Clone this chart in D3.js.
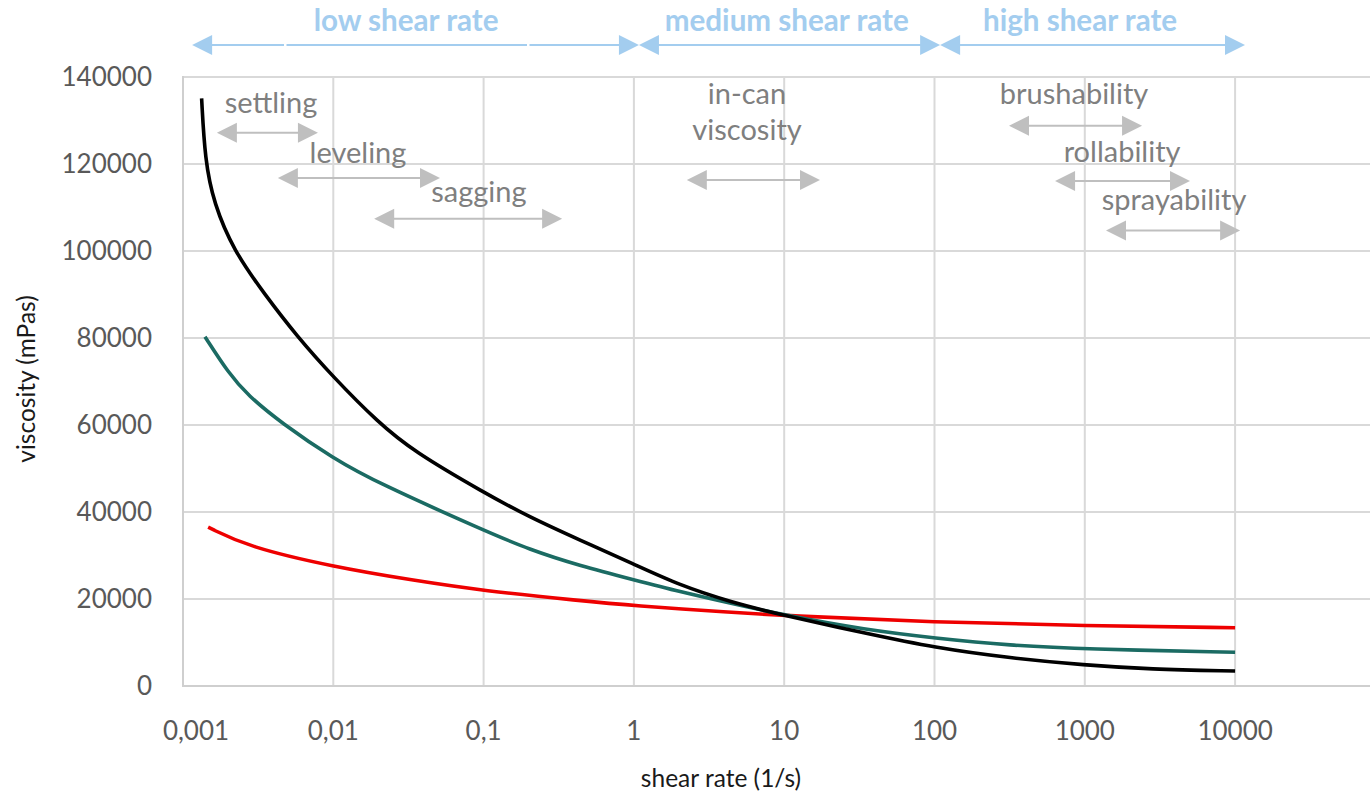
<!DOCTYPE html>
<html>
<head>
<meta charset="utf-8">
<script src="https://cdn.jsdelivr.net/npm/d3@7"></script>
<style>
  html, body { margin: 0; padding: 0; background: #fff; }
  svg { display: block; }
  text { font-family: Lato, "Open Sans", sans-serif; }
</style>
</head>
<body>
<svg id="chart" width="1370" height="794"></svg>
<script>
// ---------------- DATA ----------------
const xTicks = [0.001, 0.01, 0.1, 1, 10, 100, 1000, 10000];
const xTickLabels = ["0,001", "0,01", "0,1", "1", "10", "100", "1000", "10000"];
const yTicks = [0, 20000, 40000, 60000, 80000, 100000, 120000, 140000];
const yTickLabels = ["0", "20000", "40000", "60000", "80000", "100000", "120000", "140000"];

const blackShear = [0.00133, 0.0014, 0.0016, 0.00218, 0.0035, 0.0057, 0.01, 0.02, 0.034, 0.1, 0.2, 0.44, 1, 2, 4.4, 10, 35, 100, 320, 1000, 2700, 10000];
const blackVisc  = [135100, 121000, 111000, 100000, 90000, 80500, 71000, 60500, 54000, 44500, 38900, 33500, 28000, 23200, 19300, 16200, 12100, 8800, 6400, 4800, 3850, 3450];

const tealShear = [0.0014, 0.002, 0.0027, 0.0045, 0.01, 0.02, 0.1, 0.2, 0.44, 1, 2, 4.4, 10, 35, 100, 320, 1000, 10000];
const tealVisc  = [80300, 72000, 66800, 60500, 52300, 46600, 35800, 31400, 27600, 24400, 21700, 19000, 16300, 12900, 11000, 9300, 8500, 7750];

const redShear = [0.00147, 0.0027, 0.01, 0.034, 0.1, 0.44, 1, 4.4, 10, 100, 1000, 10000];
const redVisc  = [36500, 32000, 27400, 24300, 21900, 19600, 18450, 16950, 16200, 14650, 13850, 13400];

// shear-rate regions (top blue arrows): [from, to], label, label x
const regionFrom   = [0.00115, 1.08, 109];
const regionTo     = [1.08, 109, 11640];
const regionLabels = ["low shear rate", "medium shear rate", "high shear rate"];
const regionLabelX = [0.0305, 10.4, 930];

// application annotations (grey arrows), in data coordinates
const appLabels   = [["settling"], ["leveling"], ["sagging"], ["in-can", "viscosity"], ["brushability"], ["rollability"], ["sprayability"]];
const appFrom     = [0.00168, 0.00428, 0.0187, 2.25, 313, 634, 1384];
const appTo       = [0.0079, 0.0513, 0.333, 17.3, 2405, 5010, 10800];
const appArrowV   = [127200, 116800, 107400, 116300, 128800, 116100, 104700];
const appLabelX   = [0.00385, 0.0146, 0.0931, 5.66, 848, 1770, 3925];
const appLabelV   = [131700, 120200, 111300, 133800, 133800, 120500, 109400];

// ---------------- DRAW ----------------
const svg = d3.select("#chart");
const decade = 150.3;
const x0 = 183;
const x = d3.scaleLog().domain([0.001, 100000]).range([x0, x0 + 8 * decade]);
const y = d3.scaleLinear().domain([0, 140000]).range([686, 77]);
const rightEdge = 1372;

const colors = { black: "#000000", teal: "#1b6b63", red: "#ee0000" };

// gridlines
const grid = svg.append("g");
grid.selectAll("line.h").data(yTicks.filter(d => d > 0)).join("line")
  .attr("x1", x0).attr("x2", rightEdge)
  .attr("y1", d => y(d)).attr("y2", d => y(d))
  .attr("stroke", "#d9d9d9").attr("stroke-width", 2);
grid.selectAll("line.v").data(xTicks.filter(d => d > 0.001)).join("line")
  .attr("x1", d => x(d)).attr("x2", d => x(d))
  .attr("y1", y(140000)).attr("y2", y(0))
  .attr("stroke", "#d9d9d9").attr("stroke-width", 2);
// axis lines
svg.append("line").attr("x1", x0).attr("x2", x0).attr("y1", y(140000) - 1).attr("y2", y(0) + 1)
  .attr("stroke", "#cfcfcf").attr("stroke-width", 2);
svg.append("line").attr("x1", x0).attr("x2", rightEdge).attr("y1", y(0)).attr("y2", y(0))
  .attr("stroke", "#cfcfcf").attr("stroke-width", 2);

// y tick labels
svg.append("g").selectAll("text").data(yTicks).join("text")
  .attr("x", 152).attr("y", d => y(d))
  .attr("dy", "0.36em")
  .attr("text-anchor", "end")
  .attr("font-size", 26).attr("fill", "#595959")
  .text((d, i) => yTickLabels[i]);

// x tick labels
svg.append("g").selectAll("text").data(xTicks).join("text")
  .attr("x", (d, i) => x(d) + (i === 0 ? 13 : 0))
  .attr("y", 740)
  .attr("text-anchor", "middle")
  .attr("font-size", 26).attr("fill", "#595959")
  .text((d, i) => xTickLabels[i]);

// axis titles
svg.append("text").attr("x", 721).attr("y", 787).attr("text-anchor", "middle")
  .attr("font-size", 24.5).attr("fill", "#1a1a1a").text("shear rate (1/s)");
svg.append("text").attr("transform", "translate(35,379) rotate(-90)").attr("text-anchor", "middle")
  .attr("font-size", 24.5).attr("fill", "#1a1a1a").text("viscosity (mPas)");

// curves
const line = d3.line().x(d => x(d[0])).y(d => y(d[1])).curve(d3.curveBasis);
const seriesData = {
  black: d3.zip(blackShear, blackVisc),
  teal:  d3.zip(tealShear, tealVisc),
  red:   d3.zip(redShear, redVisc)
};
["red", "teal", "black"].forEach(name => {
  svg.append("path").datum(seriesData[name])
    .attr("d", line)
    .attr("fill", "none")
    .attr("stroke", colors[name])
    .attr("stroke-width", 3.6)
    .attr("stroke-linejoin", "round");
});

// double arrow helper (filled triangular heads)
function doubleArrow(g, xa, xb, yy, color, headW, headH, lineW) {
  g.append("line").attr("x1", xa + headW - 1).attr("x2", xb - headW + 1)
    .attr("y1", yy).attr("y2", yy).attr("stroke", color).attr("stroke-width", lineW);
  g.append("path").attr("fill", color)
    .attr("d", `M${xa},${yy} L${xa + headW},${yy - headH / 2} L${xa + headW},${yy + headH / 2} Z`);
  g.append("path").attr("fill", color)
    .attr("d", `M${xb},${yy} L${xb - headW},${yy - headH / 2} L${xb - headW},${yy + headH / 2} Z`);
}

// region arrows (top, light blue)
const blue = "#a3cdef";
const regionY = 45;
const rg = svg.append("g");
regionFrom.forEach((f, i) => {
  doubleArrow(rg, x(f), x(regionTo[i]), regionY, blue, 20, 20, 2);
});
// small breaks in the low-shear arrow line
[284, 527].forEach(px => {
  rg.append("rect").attr("x", px).attr("y", regionY - 2).attr("width", 2.5).attr("height", 4).attr("fill", "#fff");
});
rg.selectAll("text").data(regionLabels).join("text")
  .attr("x", (d, i) => x(regionLabelX[i])).attr("y", 31)
  .attr("text-anchor", "middle")
  .attr("font-size", 29.6).attr("font-weight", "bold").attr("fill", blue)
  .text(d => d);

// application arrows (grey)
const ag = svg.append("g");
appFrom.forEach((f, i) => {
  doubleArrow(ag, x(f), x(appTo[i]), y(appArrowV[i]), "#bfbfbf", 20, 20, 2);
});
appLabels.forEach((lines, i) => {
  lines.forEach((t, k) => {
    ag.append("text")
      .attr("x", x(appLabelX[i]))
      .attr("y", y(appLabelV[i]) + k * 36)
      .attr("text-anchor", "middle")
      .attr("font-size", 29).attr("fill", "#7f7f7f")
      .text(t);
  });
});
</script>
</body>
</html>
